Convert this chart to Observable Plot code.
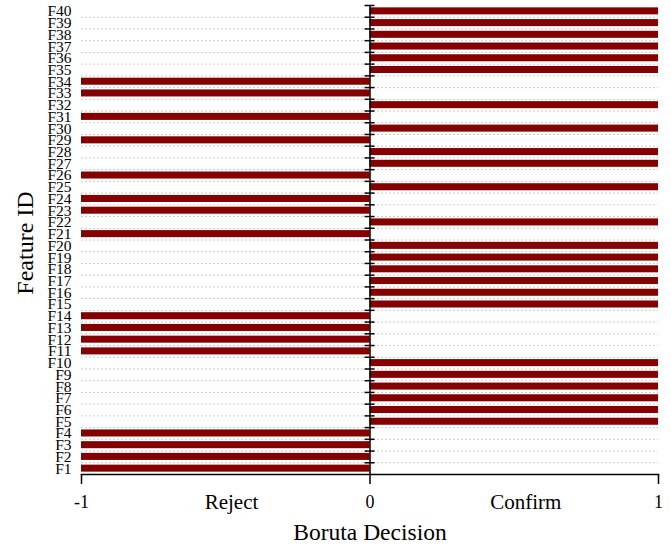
<!DOCTYPE html>
<html>
<head>
<meta charset="utf-8">
<script src="https://cdn.jsdelivr.net/npm/d3@7"></script>
<script src="https://cdn.jsdelivr.net/npm/@observablehq/plot@0.6"></script>
<style>
  html, body { margin: 0; padding: 0; background: white; }
</style>
</head>
<body>
<div id="chart"></div>
<script>
const features = ["F1","F2","F3","F4","F5","F6","F7","F8","F9","F10",
  "F11","F12","F13","F14","F15","F16","F17","F18","F19","F20",
  "F21","F22","F23","F24","F25","F26","F27","F28","F29","F30",
  "F31","F32","F33","F34","F35","F36","F37","F38","F39","F40"];
const decisions = [-1,-1,-1,-1, 1,1,1,1,1,1,
  -1,-1,-1,-1, 1,1,1,1,1,1,
  -1, 1,-1,-1, 1,-1, 1, 1,-1, 1,
  -1, 1,-1,-1, 1, 1, 1, 1, 1, 1];
const xTicks = [-1, 0, 1];
const decisionLabels = ["Reject", "Confirm"];
const decisionPos = [-0.48, 0.54];
const xTitle = "Boruta Decision";
const yTitle = "Feature ID";

const data = features.map((f, i) => ({feature: f, decision: decisions[i]}));

const W = 671, H = 552, MT = 5, MB = 78, ML = 81, MR = 13;
const step = (H - MT - MB) / features.length;
const font = "'Liberation Serif', 'Times New Roman', serif";

const chart = Plot.plot({
  width: W, height: H,
  marginTop: MT, marginBottom: MB, marginLeft: ML, marginRight: MR,
  style: {fontFamily: font, fontSize: "15px", color: "black", background: "white"},
  x: {domain: [-1, 1]},
  y: {domain: features.slice().reverse(), paddingInner: 0.4, paddingOuter: 0.2, round: false},
  marks: [
    Plot.ruleY(features.slice(0, features.length - 1), {dy: -step / 2, stroke: "#cccccc", strokeDasharray: "2,2", strokeWidth: 1}),
    Plot.barX(data, {y: "feature", x1: 0, x2: "decision", fill: "#850000"}),
    Plot.ruleX([0], {stroke: "black", strokeWidth: 1.5}),
    Plot.ruleY(features, {x1: 0, x2: 0, insetLeft: -5, insetRight: -5, dy: -step / 2, stroke: "black", strokeWidth: 1.5}),
    Plot.frame({anchor: "bottom", stroke: "black", strokeWidth: 1.5}),
    Plot.axisY({tickSize: 0, tickPadding: 10, fontSize: 15.5, label: null, fill: "black"}),
    Plot.axisX({ticks: xTicks, tickSize: 10, tickPadding: 11, tickFormat: d => String(d), fontSize: 18, label: null, strokeWidth: 1.5, fill: "black"}),
    Plot.text(decisionLabels, {x: decisionPos, text: d => d, frameAnchor: "bottom", lineAnchor: "top", dy: 20, fontSize: 21, fill: "black"}),
    Plot.text([xTitle], {frameAnchor: "bottom", lineAnchor: "top", textAnchor: "middle", dy: 49, fontSize: 23.5, fill: "black"}),
    Plot.text([yTitle], {frameAnchor: "left", rotate: -90, textAnchor: "middle", lineAnchor: "middle", dx: -56, dy: 3, fontSize: 24, fill: "black"})
  ]
});
document.getElementById("chart").append(chart);
</script>
</body>
</html>
